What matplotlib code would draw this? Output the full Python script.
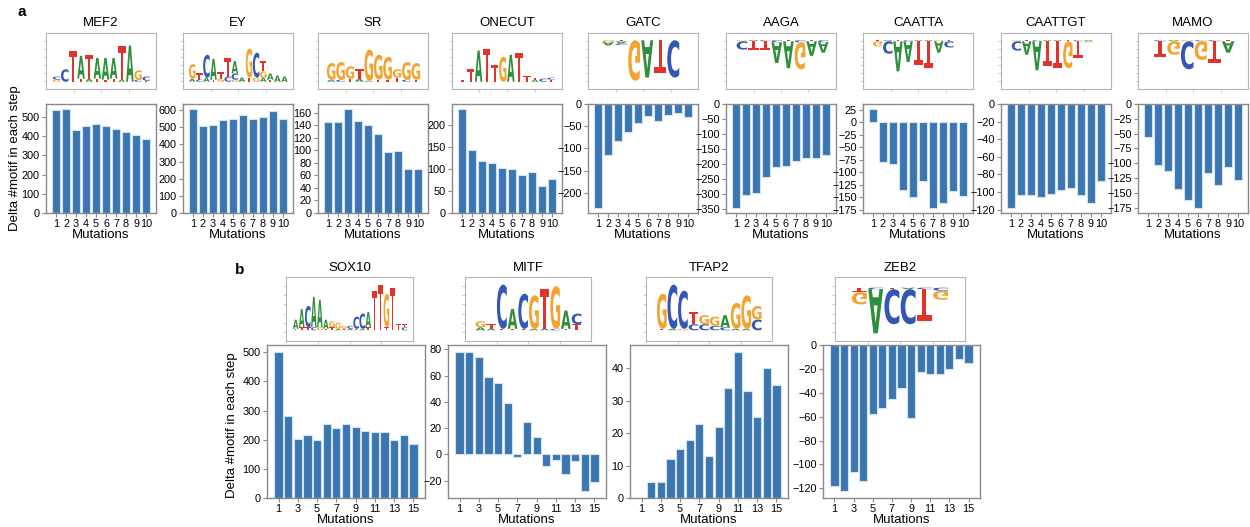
import numpy as np
import matplotlib
matplotlib.use('Agg')
import matplotlib.pyplot as plt
import matplotlib.transforms as mtransforms
from matplotlib.textpath import TextPath
from matplotlib.patches import PathPatch
from matplotlib.font_manager import FontProperties

plt.rcParams['font.family'] = ['Liberation Sans', 'DejaVu Sans']

# ---- bar data: change in motif count per mutation step ----
names_a = ['MEF2', 'EY', 'SR', 'ONECUT', 'GATC', 'AAGA', 'CAATTA', 'CAATTGT', 'MAMO']
delta_a = {
    'MEF2': [535, 540, 430, 450, 465, 452, 435, 422, 405, 385],
    'EY': [605, 505, 510, 540, 550, 572, 548, 558, 595, 547],
    'SR': [145, 145, 166, 147, 141, 127, 98, 99, 70, 70],
    'ONECUT': [235, 142, 117, 114, 101, 99, 87, 92, 61, 77],
    'GATC': [-234, -115, -84, -63, -43, -26, -39, -25, -20, -29],
    'AAGA': [-345, -302, -295, -243, -210, -205, -190, -180, -180, -170],
    'CAATTA': [27, -80, -83, -135, -150, -117, -172, -161, -137, -147],
    'CAATTGT': [-118, -103, -104, -106, -102, -98, -96, -103, -113, -87],
    'MAMO': [-56, -102, -113, -143, -161, -175, -117, -136, -106, -128],
}
names_b = ['SOX10', 'MITF', 'TFAP2', 'ZEB2']
delta_b = {
    'SOX10': [500, 281, 203, 215, 200, 253, 240, 255, 242, 230, 225, 225, 200, 215, 187],
    'MITF': [78, 78, 74, 59, 54, 39, -2, 25, 13, -9, -4, -15, -5, -28, -21],
    'TFAP2': [0, 5, 5, 12, 15, 18, 23, 13, 22, 34, 45, 33, 25, 40, 35],
    'ZEB2': [-118, -122, -106, -114, -58, -53, -45, -36, -61, -23, -24, -24, -20, -12, -15],
}
yticks = {
    'MEF2': range(0, 501, 100), 'EY': range(0, 601, 100), 'SR': range(0, 161, 20),
    'ONECUT': range(0, 201, 50), 'GATC': range(-200, 1, 50), 'AAGA': range(-350, 1, 50),
    'CAATTA': range(-175, 26, 25), 'CAATTGT': range(-120, 1, 20), 'MAMO': range(-175, 1, 25),
    'SOX10': range(0, 501, 100), 'MITF': range(-20, 81, 20), 'TFAP2': range(0, 41, 10),
    'ZEB2': range(-120, 1, 20),
}

# ---- motif logos: columns of (letter, height) stacked out from the baseline ----
logos = {
    'MEF2': [[('G', 0.1), ('C', 0.15)], [('C', 0.6)], [('T', 1.5)], [('T', 0.15), ('A', 1.1)],
             [('A', 0.15), ('T', 1.15)], [('T', 0.15), ('A', 1.0)], [('T', 0.1), ('A', 1.05)],
             [('T', 0.15), ('A', 1.0)], [('A', 0.1), ('T', 1.6)], [('A', 1.75)],
             [('C', 0.1), ('G', 0.45)], [('T', 0.05), ('C', 0.2)]],
    'EY': [[('A', 0.15), ('G', 0.7)], [('C', 0.1), ('T', 0.3)], [('A', 0.2), ('C', 1.1)],
           [('T', 0.1), ('A', 1.0)], [('G', 0.15), ('T', 0.3)], [('C', 0.25), ('T', 0.9)],
           [('G', 0.1), ('C', 0.3), ('A', 0.6)], [('A', 0.2)], [('T', 0.2), ('G', 1.4)],
           [('G', 0.2), ('C', 1.2)], [('A', 0.2), ('G', 0.3), ('T', 0.5)], [('T', 0.1), ('A', 0.3)],
           [('A', 0.3)], [('A', 0.25)]],
    'SR': [[('A', 0.1), ('G', 0.8)], [('C', 0.1), ('G', 0.85)], [('T', 0.15), ('G', 0.6)],
           [('A', 0.15), ('T', 0.45)], [('A', 0.05), ('G', 1.5)], [('T', 0.1), ('G', 1.2)],
           [('T', 0.1), ('G', 1.1)], [('T', 0.2), ('G', 0.4)], [('C', 0.1), ('G', 0.85)],
           [('T', 0.1), ('G', 0.8)]],
    'ONECUT': [[('T', 0.1)], [('T', 0.6)], [('A', 1.5)], [('T', 1.6)], [('T', 0.8)], [('G', 1.2)],
               [('A', 1.3)], [('T', 1.4)], [('T', 0.3)], [('A', 0.1), ('T', 0.1)], [('C', 0.15)],
               [('T', 0.1), ('C', 0.1)]],
    'GATC': [[('G', 0.1), ('A', 0.15)], [('T', 0.05), ('A', 0.1), ('C', 0.08)], [('G', 1.95)],
             [('A', 1.8)], [('T', 1.6)], [('C', 1.8)]],
    'AAGA': [[('G', 0.05), ('C', 0.4)], [('A', 0.05), ('T', 0.4)], [('C', 0.05), ('T', 0.4)],
             [('C', 0.1), ('A', 1.0)], [('T', 0.05), ('A', 1.3)], [('C', 0.1), ('G', 1.3)],
             [('T', 0.05), ('A', 0.7)], [('C', 0.1), ('A', 0.5)]],
    'CAATTA': [[('T', 0.05), ('G', 0.25)], [('A', 0.05), ('C', 0.6)], [('T', 0.05), ('A', 1.45)],
               [('C', 0.05), ('A', 1.0)], [('A', 0.05), ('T', 1.15)], [('A', 0.05), ('T', 1.3)],
               [('G', 0.05), ('A', 0.55)], [('T', 0.05), ('C', 0.3)]],
    'CAATTGT': [[('G', 0.05), ('C', 0.45)], [('T', 0.05), ('A', 0.65)], [('C', 0.05), ('A', 1.4)],
                [('A', 0.05), ('T', 1.2)], [('A', 0.05), ('T', 1.3)], [('T', 0.05), ('G', 1.3)],
                [('C', 0.05), ('T', 0.8)], [('A', 0.05), ('G', 0.05)]],
    'MAMO': [[('C', 0.05), ('T', 0.75)], [('A', 0.05), ('G', 0.65)], [('G', 0.05), ('C', 1.35)],
             [('C', 0.05), ('G', 0.9)], [('C', 0.05), ('T', 1.05)], [('T', 0.05), ('A', 0.55)]],
    'SOX10': [[('T', 0.05), ('A', 0.3)], [('T', 0.1), ('A', 0.6)], [('T', 0.1), ('C', 0.7)],
              [('C', 0.1), ('A', 1.0)], [('G', 0.1), ('A', 0.9)], [('T', 0.05), ('A', 0.3)],
              [('T', 0.1), ('G', 0.2)], [('A', 0.05), ('G', 0.2)], [('T', 0.05), ('G', 0.1)],
              [('A', 0.05), ('C', 0.1)], [('T', 0.05), ('C', 0.4)], [('A', 0.05), ('C', 0.5)],
              [('T', 0.1), ('A', 0.5)], [('T', 1.3)], [('T', 1.5)], [('T', 0.1), ('G', 1.1)],
              [('T', 1.4)], [('T', 0.2)], [('C', 0.1), ('T', 0.1)]],
    'MITF': [[('A', 0.1), ('G', 0.2)], [('A', 0.05), ('T', 0.15)], [('T', 0.05), ('C', 1.45)],
             [('T', 0.05), ('A', 0.65)], [('T', 0.05), ('C', 1.15)], [('A', 0.05), ('G', 1.1)],
             [('A', 0.05), ('T', 1.3)], [('C', 0.05), ('G', 1.4)], [('T', 0.05), ('A', 0.6)],
             [('T', 0.2), ('C', 0.35)]],
    'TFAP2': [[('T', 0.05), ('G', 1.15)], [('A', 0.05), ('C', 1.45)], [('G', 0.05), ('C', 1.25)],
              [('C', 0.2), ('T', 0.4)], [('C', 0.2), ('G', 0.3)], [('C', 0.15), ('G', 0.3)],
              [('C', 0.1), ('A', 0.4)], [('A', 0.05), ('G', 0.85)], [('A', 0.05), ('G', 1.1)],
              [('C', 0.35), ('G', 0.45)]],
    'ZEB2': [[('T', 0.15), ('G', 0.4)], [('C', 0.05), ('A', 1.45)], [('T', 0.05), ('C', 1.15)],
             [('A', 0.05), ('C', 1.15)], [('C', 0.05), ('T', 1.05)], [('C', 0.1), ('G', 0.3)]],
}
# motifs that are depleted are drawn hanging below the baseline
depleted = {'GATC', 'AAGA', 'CAATTA', 'CAATTGT', 'MAMO', 'ZEB2'}

# empty space (in columns) left and right of each logo
logo_pad = {
    'MEF2': (0.8, 0.7), 'EY': (0.8, 0.7), 'SR': (0.9, 0.8), 'ONECUT': (0.8, 0.85),
    'GATC': (1.05, 1.4), 'AAGA': (0.87, 0.6), 'CAATTA': (0.93, 1.86), 'CAATTGT': (1.0, 1.7),
    'MAMO': (1.1, 0.95), 'SOX10': (1.1, 0.9), 'MITF': (0.95, 0.85), 'TFAP2': (1.0, 0.95),
    'ZEB2': (1.0, 1.0),
}

letter_colors = {'A': '#2f8f3c', 'C': '#3456b4', 'G': '#f4a32e', 'T': '#e0332b'}
letter_font = FontProperties(family='DejaVu Sans', weight='bold')

W, H = 1250, 527
BAR_COLOR = '#3b76b0'
SPINE = '#8a8a8a'

fig = plt.figure(figsize=(W / 100, H / 100), dpi=100)


def px_axes(x0, y0, x1, y1):
    return fig.add_axes([x0 / W, 1 - y1 / H, (x1 - x0) / W, (y1 - y0) / H])


def draw_letter(ax, ch, x, y, w, h):
    tp = TextPath((0, 0), ch, size=1, prop=letter_font)
    bb = tp.get_extents()
    tr = (mtransforms.Affine2D().translate(-bb.x0, -bb.y0)
          .scale(w / bb.width, h / bb.height).translate(x - w / 2, y))
    ax.add_patch(PathPatch(tr.transform_path(tp), fc=letter_colors[ch], ec='none', lw=0))


def draw_logo(ax, name, ylim):
    cols = logos[name]
    sign = -1 if name in depleted else 1
    for i, col in enumerate(cols):
        y = 0.0
        for ch, h in col:
            draw_letter(ax, ch, i, y, 0.92, sign * h)
            y += sign * h
    pl, pr = logo_pad[name]
    ax.set_xlim(-0.5 - pl, len(cols) - 0.5 + pr)
    if sign < 0:
        ax.set_ylim(-ylim[1], -ylim[0])
    else:
        ax.set_ylim(*ylim)
    for s in ax.spines.values():
        s.set_color('#b5b5b5')
        s.set_linewidth(0.8)
    y0, y1 = ax.get_ylim()
    x0, x1 = ax.get_xlim()
    ax.set_yticks(np.linspace(y0, y1, 8)[1:-1])
    ax.set_xticks(np.linspace(x0, x1, 5)[1:-1])
    ax.tick_params(length=2, width=0.5, color='#b5b5b5', labelleft=False, labelbottom=False)


def draw_bars(ax, name, vals, xlim, xt):
    x = np.arange(1, len(vals) + 1)
    ax.bar(x, vals, width=0.85, color=BAR_COLOR, edgecolor='#d3e2f1', linewidth=0.8)
    ax.set_xlim(*xlim)
    ax.set_xticks(xt)
    ax.set_yticks(list(yticks[name]))
    ax.yaxis.set_major_formatter(matplotlib.ticker.FuncFormatter(
        lambda v, p: f'{v:.0f}'.replace('-', '\u2212')))
    ax.tick_params(labelsize=7.8, length=3, width=0.8, color=SPINE, pad=1.5)
    for s in ax.spines.values():
        s.set_color(SPINE)
        s.set_linewidth(1.0)
    ax.set_xlabel('Mutations', fontsize=9.5, labelpad=0)


# ---- panel a ----
lefts_a = [46, 183, 318, 452, 588, 726, 863, 1001, 1138]
for name, x0 in zip(names_a, lefts_a):
    lax = px_axes(x0, 33, x0 + 110, 89)
    draw_logo(lax, name, (-0.35, 2.35))
    lax.set_title(name, fontsize=9.5, pad=5)
    bax = px_axes(x0, 104, x0 + 110, 213)
    draw_bars(bax, name, delta_a[name], (0, 11), range(1, 11))
fig.text(15 / W, 1 - 158 / H, 'Delta #motif in each step', rotation=90,
         ha='center', va='center', fontsize=9.5)
fig.text(22 / W, 1 - 12 / H, 'a', fontsize=11, fontweight='bold', ha='center', va='center')

# ---- panel b ----
bars_b = [(267, 425), (448, 606), (630, 788), (823, 980)]
logos_b = [(286, 413), (465, 591), (646, 772), (835, 965)]
for name, (bx0, bx1), (lx0, lx1) in zip(names_b, bars_b, logos_b):
    lax = px_axes(lx0, 277, lx1, 341)
    draw_logo(lax, name, (-0.35, 1.75))
    lax.set_title(name, fontsize=9.5, pad=4)
    bax = px_axes(bx0, 345, bx1, 498)
    draw_bars(bax, name, delta_b[name], (-0.2, 16.2), range(1, 16, 2))
fig.text(232 / W, 1 - 425 / H, 'Delta #motif in each step', rotation=90,
         ha='center', va='center', fontsize=9.5)
fig.text(240 / W, 1 - 270 / H, 'b', fontsize=11, fontweight='bold', ha='center', va='center')

fig.savefig('out.png', dpi=100)
